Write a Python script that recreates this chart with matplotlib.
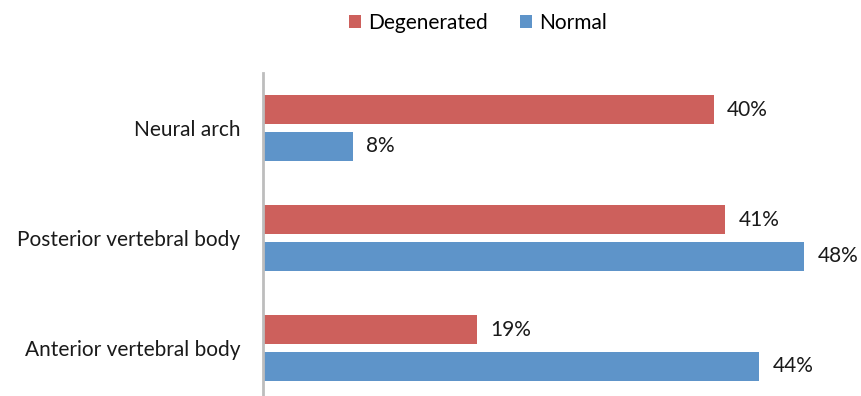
import numpy as np
import matplotlib.pyplot as plt

plt.rcParams['font.family'] = ['Lato', 'DejaVu Sans']

categories = ['Neural arch', 'Posterior vertebral body', 'Anterior vertebral body']
degenerated = [40, 41, 19]
normal = [8, 48, 44]

red = '#CD605C'
blue = '#5E94C9'
fs = 15

fig = plt.figure(figsize=(8.61, 3.96), dpi=100)
ax = fig.add_axes([263 / 861, -7 / 396, 564 / 861, 330 / 396])

y = np.arange(len(categories))
h = 0.255
off = 0.168

b1 = ax.barh(y - off, degenerated, height=h, color=red, label='Degenerated')
b2 = ax.barh(y + off, normal, height=h, color=blue, label='Normal')

for bars, vals in ((b1, degenerated), (b2, normal)):
    for bar, v in zip(bars, vals):
        ax.text(bar.get_width() + 1.15, bar.get_y() + bar.get_height() / 2, f'{v}%',
                va='center', ha='left', fontsize=fs, color='#1a1a1a')

ax.set_xlim(0, 50)
ax.set_ylim(2.5, -0.5)
ax.set_yticks(y)
ax.set_yticklabels(categories, fontsize=fs, color='#1a1a1a')
ax.tick_params(axis='y', length=0, pad=16.5)
ax.set_xticks([])
for s in ('top', 'right', 'bottom'):
    ax.spines[s].set_visible(False)
ax.spines['left'].set_color('#bdbdbd')
ax.spines['left'].set_linewidth(2)

fig.legend(handles=[b1, b2], loc='center', bbox_to_anchor=(478 / 861, 1 - 23 / 396), ncol=2,
           frameon=False, fontsize=fs, handlelength=0.6, handleheight=0.6,
           handletextpad=0.35, columnspacing=1.5)

fig.savefig('out.png', dpi=100)
